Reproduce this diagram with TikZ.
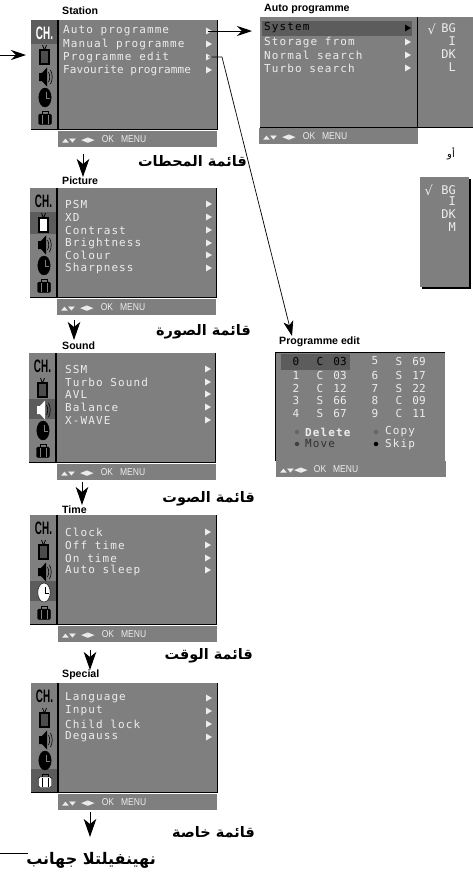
\documentclass[tikz,border=0pt]{standalone}
\usepackage{fontspec}
\usepackage{graphicx}
\usetikzlibrary{arrows.meta,shapes.geometric,calc}
\setmainfont{Liberation Sans}
\TeXXeTstate=1
\newfontfamily\arabicfont[Script=Arabic]{DejaVu Sans}
\newfontfamily\symfont{DejaVu Sans}
\newfontfamily\osdfont[LetterSpace=10]{DejaVu Sans Mono}
\newfontfamily\osdtight[LetterSpace=1]{DejaVu Sans Mono}
\newfontfamily\osdplain{DejaVu Sans Mono}
\newfontfamily\barfont[FakeStretch=.85]{Liberation Sans}
\definecolor{panelgray}{HTML}{7F7F7F}
\definecolor{seldark}{HTML}{5C5C5C}
\definecolor{osdwhite}{HTML}{EDEDED}

% softkeys line under each menu
\newcommand{\barkeys}{{\symfont\fontsize{9}{10}\selectfont\scalebox{1}[.6]{▲▼}\hspace{5pt}\scalebox{1}[.8]{◀▶}}\hspace{7pt}OK\hspace{7pt}MENU}

% icon column: name, left, top, selected
\newcommand{\menuicons}[4]{%
  \begin{scope}[shift={(#2,#3)}]
    \ifcase#4\or\fill[selbox] (0,0) rectangle (27,24);%
    \or\fill[selbox] (0,24) rectangle (27,46);%
    \or\fill[selbox] (0,46) rectangle (27,66);%
    \or\fill[selbox] (0,66) rectangle (27,86);%
    \or\fill[selbox] (0,86) rectangle (27,109);\fi
    \draw[menuline] (27,0) -- (27,109);
    % CH
    \ifnum#4=1 \def\chcol{white}\else\def\chcol{black}\fi
    \node[text=\chcol, font=\bfseries\fontsize{18}{18}\selectfont, inner sep=0pt] (#1ch) at (13.5,13) {\scalebox{.55}[1]{CH.}};
    % TV
    \ifnum#4=2 \def\tvcol{white}\else\def\tvcol{black!70}\fi
    \draw[line width=.8pt] (11.5,25) -- (13,29) (15.5,25) -- (14,29);
    \fill (8,29) rectangle (19,45);
    \fill[\tvcol] (10,31) rectangle (17,43);
    % speaker
    \ifnum#4=3 \def\spcol{white}\else\def\spcol{black}\fi
    \fill[\spcol] (8,53) -- (11,53) -- (16,47.5) -- (16,66.5) -- (11,61) -- (8,61) -- cycle;
    \draw[line width=.6pt] (17.5,52) to[bend left=25] (17.5,62) (19.5,50) to[bend left=25] (19.5,64);
    % clock
    \ifnum#4=4 \def\ckcol{white}\def\hdcol{black}\else\def\ckcol{black}\def\hdcol{panelgray}\fi
    \filldraw[fill=\ckcol, draw=black] (14,77.5) ellipse [x radius=6.2, y radius=9.5];
    \draw[\hdcol, line width=.9pt] (15,71.5) -- (15,78.5) -- (18.5,78.5);
    % case
    \ifnum#4=5 \def\cscol{white}\def\cslin{black}\else\def\cscol{black}\def\cslin{panelgray}\fi
    \draw[line width=1pt] (11,94) -- (11,91.5) -- (17,91.5) -- (17,94);
    \filldraw[fill=\cscol, draw=black, rounded corners=1.5pt] (7.5,94) rectangle (20.5,104.5);
    \draw[\cslin, line width=.8pt] (11,95) -- (11,104) (17,95) -- (17,104);
  \end{scope}%
}

\begin{document}
\begin{tikzpicture}[
      x=1pt, y=-1pt,
      menupanel/.style={rectangle, fill=panelgray, anchor=north west, inner sep=0pt, minimum width=186.5pt, minimum height=109pt},
      menubar/.style={rectangle, fill=panelgray, anchor=north west, inner xsep=4pt, inner ysep=0pt, minimum height=15.5pt, text width=151pt, align=left, text=osdwhite, font=\barfont\fontsize{10}{11}\selectfont},
      menutitle/.style={anchor=west, inner sep=0pt, font=\bfseries\fontsize{10.6}{12}\selectfont},
      menuitem/.style={anchor=west, inner sep=0pt, text=osdwhite, font=\osdfont\fontsize{11}{12}\selectfont},
      edititem/.style={inner sep=0pt, text=osdwhite, font=\osdplain\fontsize{11}{12}\selectfont},
      syscode/.style={anchor=east, inner sep=0pt, text=osdwhite, font=\osdplain\fontsize{12}{13}\selectfont},
      menutri/.style={regular polygon, regular polygon sides=3, shape border rotate=-90, fill=osdwhite, inner sep=0pt, minimum size=8pt},
      selbox/.style={fill=seldark},
      menuline/.style={line width=1.1pt},
      arabtitle/.style={anchor=east, inner sep=0pt, font=\arabicfont\bfseries\fontsize{14.5}{16}\selectfont},
      editdot/.style={circle, inner sep=0pt, minimum size=4.5pt},
      bigarrow/.style={-{Stealth[length=18pt,width=12.5pt,inset=5pt]}, line width=1pt},
      sidearrow/.style={-{Stealth[length=15pt,width=10pt,inset=5pt]}, line width=1pt},
      longarrow/.style={-{Stealth[length=15pt,width=10pt,inset=4pt]}, line width=.7pt}
    ]
      \useasboundingbox (0,0) rectangle (473,876);

      % Station
      \node[menutitle] (stationtitle) at (62,11) {Station};
      \node[menupanel] (station) at (31,20) {};
      \node[menubar] (stationbar) at (58,131) {\barkeys};
      \menuicons{station}{31}{20}{1}
      \foreach \i/\y/\txt in {1/31/Auto programme, 2/44/Manual programme, 3/57/Programme edit, 4/70/\osdtight Favourite programme}{
        \node[menuitem] (station\i) at (63,\y) {\txt};
        \node[menutri] (stationtri\i) at (208,\y) {};
      }
      \draw[menuline] (station.north east) -- (station.south east) -- (station.south west);

      % Picture
      \node[menutitle] (picturetitle) at (62,181) {Picture};
      \node[menupanel] (picture) at (30,188) {};
      \node[menubar] (picturebar) at (57,299) {\barkeys};
      \menuicons{picture}{30}{188}{2}
      \foreach \i/\y/\txt in {1/204/PSM, 2/217/XD, 3/230/Contrast, 4/243/Brightness, 5/255/Colour, 6/268/Sharpness}{
        \node[menuitem] (picture\i) at (65,\y) {\txt};
        \node[menutri] (picturetri\i) at (208,\y) {};
      }
      \draw[menuline] (picture.north east) -- (picture.south east) -- (picture.south west);

      % Sound
      \node[menutitle] (soundtitle) at (62,346) {Sound};
      \node[menupanel] (sound) at (29,353) {};
      \node[menubar] (soundbar) at (57,464) {\barkeys};
      \menuicons{sound}{29}{353}{3}
      \foreach \i/\y/\txt in {1/369/SSM, 2/382/Turbo Sound, 3/394/AVL, 4/407/Balance, 5/420/X-WAVE}{
        \node[menuitem] (sound\i) at (65,\y) {\txt};
        \node[menutri] (soundtri\i) at (207,\y) {};
      }
      \draw[menuline] (sound.north east) -- (sound.south east) -- (sound.south west);

      % Time
      \node[menutitle] (timetitle) at (62,510) {Time};
      \node[menupanel] (timemenu) at (30,515) {};
      \node[menubar] (timebar) at (58,626) {\barkeys};
      \menuicons{timemenu}{30}{515}{4}
      \foreach \i/\y/\txt in {1/532/Clock, 2/545/Off time, 3/558/On time, 4/570/Auto sleep}{
        \node[menuitem] (timemenu\i) at (65,\y) {\txt};
        \node[menutri] (timemenutri\i) at (207,\y) {};
      }
      \draw[menuline] (timemenu.north east) -- (timemenu.south east) -- (timemenu.south west);

      % Special
      \node[menutitle] (specialtitle) at (62,675) {Special};
      \node[menupanel] (special) at (31,683) {};
      \node[menubar] (specialbar) at (58,794) {\barkeys};
      \menuicons{special}{31}{683}{5}
      \foreach \i/\y/\txt in {1/698/Language, 2/711/Input, 3/724/Child lock, 4/737/Degauss}{
        \node[menuitem] (special\i) at (65,\y) {\txt};
        \node[menutri] (specialtri\i) at (208,\y) {};
      }
      \draw[menuline] (special.north east) -- (special.south east) -- (special.south west);

      % Auto programme
      \node[menutitle] (autotitle) at (264,9) {Auto programme};
      \node[menupanel, minimum width=213pt, minimum height=110pt] (auto) at (260,17) {};
      \fill[seldark] (262,21) rectangle (412,36);
      \node[menubar] (autobar) at (259,128) {\barkeys};
      \foreach \i/\y/\txt in {2/42/Storage from, 3/55/Normal search, 4/68/Turbo search}{
        \node[menuitem] (auto\i) at (264,\y) {\txt};
        \node[menutri] (autotri\i) at (407,\y) {};
      }
      \node[menuitem, text=black] (systemrow) at (264,28) {System};
      \node[menutri, fill=black] (systemtri) at (407,28) {};
      \draw[menuline] (417.5,17) -- (417.5,127);
      \draw[line width=1.6pt] (auto.south west) -- (auto.south east);
      \node[syscode, font=\symfont\fontsize{13}{14}\selectfont] (autocheck) at (436,29) {√};
      \foreach \i/\y/\txt in {1/28/BG, 2/41/I, 3/54/DK, 4/67/L}{
        \node[syscode] (autocode\i) at (456,\y) {\txt};
      }

      % Alternative list
      \node[anchor=center, inner sep=0pt, font=\arabicfont\fontsize{10}{11}\selectfont] (orlabel) at (451,154) {\beginR أو\endR};
      \fill[black] (422,179) rectangle (471,289);
      \node[menupanel, minimum width=49pt, minimum height=110pt] (altlist) at (420,177) {};
      \node[syscode, font=\symfont\fontsize{13}{14}\selectfont] (altcheck) at (433,190) {√};
      \foreach \i/\y/\txt in {1/190/BG, 2/201/I, 3/214/DK, 4/227/M}{
        \node[syscode] (altcode\i) at (456,\y) {\txt};
      }

      % Programme edit
      \node[menutitle] (edittitle) at (279,342) {Programme edit};
      \node[menupanel, minimum width=170pt, minimum height=109pt] (edit) at (275,352) {};
      \draw[line width=.9pt] (edit.south west) -- (edit.north west) -- (edit.north east);
      \fill[seldark] (281,354) rectangle (350,370);
      \node[menubar, text width=162pt] (editbar) at (276,461) {{\symfont\fontsize{9}{10}\selectfont\scalebox{1}[.6]{▲▼}\scalebox{1}[.8]{◀▶}}\hspace{6pt}OK\hspace{7pt}MENU};
      \foreach \n/\x/\y/\band/\chan in {1/296/375/C/03, 2/296/388/C/12, 3/296/400/S/66, 4/296/413/S/67, 5/375/361/S/69, 6/375/375/S/17, 7/375/388/S/22, 8/375/400/C/09, 9/375/413/C/11}{
        \node[edititem] (num\n) at (\x,\y) {\n};
        \node[edititem] (band\n) at (\x+24,\y) {\band};
        \node[edititem] (chan\n) at (\x+44,\y) {\chan};
      }
      \node[edititem, text=black] (num0) at (296,361) {0};
      \node[edititem, text=black] (band0) at (320,361) {C};
      \node[edititem, text=black] (chan0) at (340,361) {03};
      \node[editdot, fill=black!60] (deletedot) at (297,432) {};
      \node[menuitem, font=\osdfont\bfseries\fontsize{11}{12}\selectfont] (deleteitem) at (305,432) {Delete};
      \node[editdot, fill=black!75] (movedot) at (297,444) {};
      \node[menuitem, text=black!80] (moveitem) at (305,444) {Move};
      \node[editdot, fill=black!60] (copydot) at (376,432) {};
      \node[menuitem] (copyitem) at (385,432) {Copy};
      \node[editdot, fill=black] (skipdot) at (376,444) {};
      \node[menuitem] (skipitem) at (385,444) {Skip};

      % Captions
      \node[arabtitle] (stationcap) at (247,161) {\beginR قائمة المحطات\endR};
      \node[arabtitle] (picturecap) at (251,332) {\beginR قائمة الصورة\endR};
      \node[arabtitle] (soundcap) at (255,499) {\beginR قائمة الصوت\endR};
      \node[arabtitle] (timecap) at (253,656) {\beginR قائمة الوقت\endR};
      \node[arabtitle] (specialcap) at (255,832) {\beginR قائمة خاصة\endR};
      \node[anchor=east, inner sep=0pt, font=\arabicfont\bfseries\fontsize{16}{18}\selectfont] (footercap) at (156,860) {\beginR نهينفيلتلا جهانب\endR};
      \coordinate (footleft) at (0,853);
      \coordinate (footright) at (28,853);
      \draw[line width=.6pt] (footleft) -- (footright);

      % Arrows
      \coordinate (stationin) at (26,55);
      \coordinate (leftedge) at (0,55);
      \draw[sidearrow] (leftedge) -- (stationin);
      \coordinate (autoin) at (252,31);
      \draw[sidearrow] (stationtri1.center) -- (autoin);
      \coordinate (editbend) at (222,57);
      \coordinate (edittip) at (292,336);
      \draw[longarrow] (stationtri3.center) -- (editbend) -- (edittip);
      \coordinate (picturein) at (83,177);
      \coordinate (soundin) at (74,340);
      \coordinate (timein) at (82,505);
      \coordinate (specialin) at (90,670);
      \coordinate (endin) at (90,837);
      \draw[bigarrow, shorten <=7pt] (stationbar.south -| picturein) -- (picturein);
      \draw[bigarrow, shorten <=5pt] (picturebar.south -| soundin) -- (soundin);
      \draw[bigarrow, shorten <=2pt] (soundbar.south -| timein) -- (timein);
      \draw[bigarrow, shorten <=8pt] (timebar.south -| specialin) -- (specialin);
      \draw[bigarrow, shorten <=2pt] (specialbar.south -| endin) -- (endin);

    \end{tikzpicture}
\end{document}
